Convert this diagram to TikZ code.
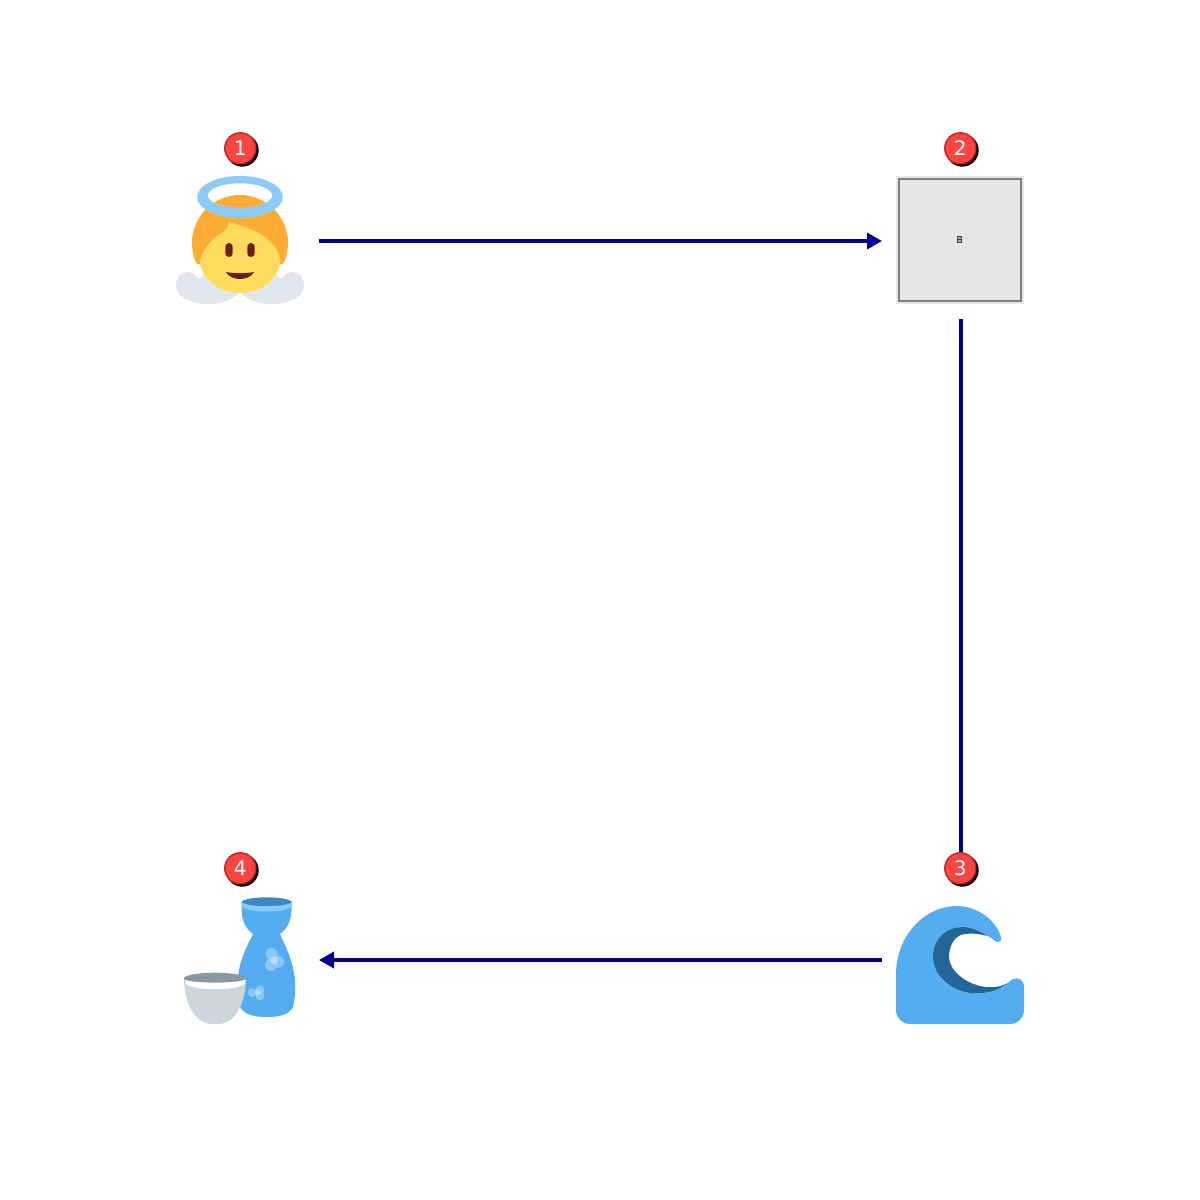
\documentclass[tikz,border=0pt]{standalone}
\usepackage{fontspec}
\setmainfont{DejaVu Sans}
\usetikzlibrary{arrows.meta}
\definecolor{linkc}{HTML}{00008B}
\definecolor{hair}{HTML}{FFAC33}
\definecolor{face}{HTML}{FFDC5D}
\definecolor{wing}{HTML}{E1E8ED}
\definecolor{halo}{HTML}{8CCAF7}
\definecolor{brown}{HTML}{662113}
\definecolor{wave}{HTML}{55ACEE}
\definecolor{waved}{HTML}{226699}
\definecolor{rimd}{HTML}{3B88C3}
\definecolor{pale}{HTML}{88C9F9}
\definecolor{paler}{HTML}{BBDDF5}
\definecolor{cup}{HTML}{CCD6DD}
\definecolor{cupd}{HTML}{8899A6}
\definecolor{badgered}{HTML}{FF4444}
\definecolor{badgeedge}{HTML}{C62828}
\tikzset{
  hub/.style={rectangle,inner sep=0pt,outer sep=0pt,minimum width=158pt,minimum height=156pt},
  conn/.style={draw=linkc,line width=3.5pt,-{Triangle[length=15pt,width=16pt,fill=linkc]}},
  badge/.style={circle,fill=badgered,draw=badgeedge,line width=1.5pt,inner sep=0pt,minimum size=31pt,
     text=white,font=\fontsize{20}{24}\selectfont},
  shade/.style={fill=black}
}
\begin{document}
\begin{tikzpicture}[x=1pt,y=-1pt]
\useasboundingbox (0,0) rectangle (1200,1200);
\fill[white] (0,0) rectangle (1200,1200);
% layout hubs
\node[hub] (n1) at (240,241) {};
\node[hub] (n2) at (961,241) {};
\node[hub] (n3) at (961,960) {};
\node[hub] (n4) at (240,960) {};
% connectors
\draw[conn] (n1) -- (n2);
\draw[conn] (n2) -- (n3);
\draw[conn] (n3) -- (n4);
% angel
\fill[wing] (198,279) .. controls (196,274) and (191,272) .. (187,272)
  .. controls (181,272) and (176,278) .. (176,286)
  .. controls (176,297) and (191,304) .. (207,304)
  .. controls (220,304) and (232,301) .. (240,292) -- (240,278) -- (204,273) -- cycle;
\fill[wing] (282,279) .. controls (284,274) and (289,272) .. (293,272)
  .. controls (299,272) and (304,278) .. (304,286)
  .. controls (304,297) and (289,304) .. (273,304)
  .. controls (260,304) and (248,301) .. (240,292) -- (240,278) -- (276,273) -- cycle;
\begin{scope}
  \clip (180,180) rectangle (300,263.5);
  \fill[hair] (240,243) circle (48);
\end{scope}
\fill[face] (199.5,262) .. controls (203,281) and (220,293) .. (240,293)
  .. controls (260,293) and (277,281) .. (280.5,262)
  .. controls (278,246) and (268,232) .. (228,222)
  .. controls (229,228) and (226,230) .. (220,234)
  .. controls (208,242) and (202,252) .. (199.5,262) -- cycle;
\fill[halo,even odd rule] (240,197) ellipse [x radius=42.7,y radius=21]
  (240,195.5) ellipse [x radius=32.3,y radius=12.2];
\fill[brown,rounded corners=3.6pt] (225.3,243) rectangle (232.7,257);
\fill[brown,rounded corners=3.6pt] (247.3,243) rectangle (254.7,257);
\fill[brown] (226,272) .. controls (232,273.5) and (248,273.5) .. (254,272)
  .. controls (251,277) and (246,279) .. (240,279)
  .. controls (234,279) and (229,277) .. (226,272) -- cycle;
% missing-glyph box
\fill[black!10] (896,176) rectangle (1024,304);
\node[rectangle,fill=black!10,draw=black!50,line width=2.2pt,minimum size=122.5pt,inner sep=0pt,outer sep=0pt] (box2) at (960,240) {};
\fill[black!75] (957,236) rectangle (962,243);
\fill[black!30] (958.3,237) rectangle (960.7,239);
\fill[black!30] (958.3,240) rectangle (960.7,242);
% wave
\fill[wave] (910,1024) -- (1010,1024) .. controls (1018,1024) and (1024,1018) .. (1024,1010)
  -- (1024,986) .. controls (1024,980) and (1018,977) .. (1013,979)
  .. controls (1011,980) and (1009,982) .. (1008,983)
  .. controls (995,993) and (982,994) .. (970,993)
  .. controls (950,990) and (933,975) .. (933,957)
  .. controls (933,937) and (948,927) .. (962,927)
  .. controls (975,927) and (985,933) .. (995,941)
  .. controls (998,943) and (1002,942) .. (1001,937)
  .. controls (995,918) and (975,906) .. (957,906)
  .. controls (925,906) and (896,935) .. (896,975)
  -- (896,1010) .. controls (896,1018) and (902,1024) .. (910,1024) -- cycle;
\fill[waved] (1008,983) .. controls (995,993) and (982,994) .. (970,993)
  .. controls (950,990) and (933,975) .. (933,957)
  .. controls (933,937) and (948,927) .. (962,927)
  .. controls (972,927) and (980,931) .. (988,936)
  .. controls (980,934) and (972,933) .. (965,934)
  .. controls (955,935) and (949,945) .. (949,957)
  .. controls (949,970) and (965,984) .. (985,987)
  .. controls (995,988) and (1003,986) .. (1008,983) -- cycle;
% sake bottle
\fill[wave] (241.7,903) .. controls (241,914) and (242,926) .. (253,934)
  .. controls (246,948) and (239,962) .. (238,978)
  .. controls (237,990) and (238,1002) .. (240,1007)
  .. controls (245,1015) and (255,1017) .. (267,1017)
  .. controls (279,1017) and (289,1015) .. (293,1007)
  .. controls (296,995) and (296,980) .. (293,968)
  .. controls (290,955) and (285,945) .. (280,934)
  .. controls (291,926) and (292,914) .. (291.7,903) -- cycle;
\fill[rimd] (266.7,902.3) ellipse [x radius=25,y radius=5];
\fill[pale] (241.7,902.5) .. controls (250,907.5) and (283,907.5) .. (291.7,902.5)
  -- (291.7,907) .. controls (283,913) and (250,913) .. (242.2,907) -- cycle;
\fill[pale] (271.7,954) circle (6);
\fill[pale] (278.3,961.7) circle (6);
\fill[pale] (271,965) circle (6);
\fill[paler] (274,960.3) circle (4);
\fill[pale] (252.3,992.7) circle (4.5);
\fill[pale] (260,990) circle (4.5);
\fill[pale] (260,995.7) circle (4.5);
\fill[paler] (257.7,992.3) circle (3);
% sake cup
\fill[cup] (184,978) .. controls (184,1003) and (195,1024) .. (212,1024) -- (218,1024)
  .. controls (235,1024) and (246,1003) .. (246,978) -- cycle;
\fill[cupd] (215,978.3) ellipse [x radius=31,y radius=5.6];
\fill[white] (186,980) .. controls (195,983.5) and (235,983.5) .. (244.5,980)
  -- (245,984) .. controls (235,991) and (195,991) .. (186,984) -- cycle;
% badges
\fill[shade] (242.3,150.3) circle (16.4);
\node[badge] (b1) at (240.3,148.3) {1};
\fill[shade] (962.3,150.3) circle (16.4);
\node[badge] (b2) at (960.3,148.3) {2};
\fill[shade] (962.3,870.3) circle (16.4);
\node[badge] (b3) at (960.3,868.3) {3};
\fill[shade] (242.3,870.3) circle (16.4);
\node[badge] (b4) at (240.3,868.3) {4};
\end{tikzpicture}
\end{document}
